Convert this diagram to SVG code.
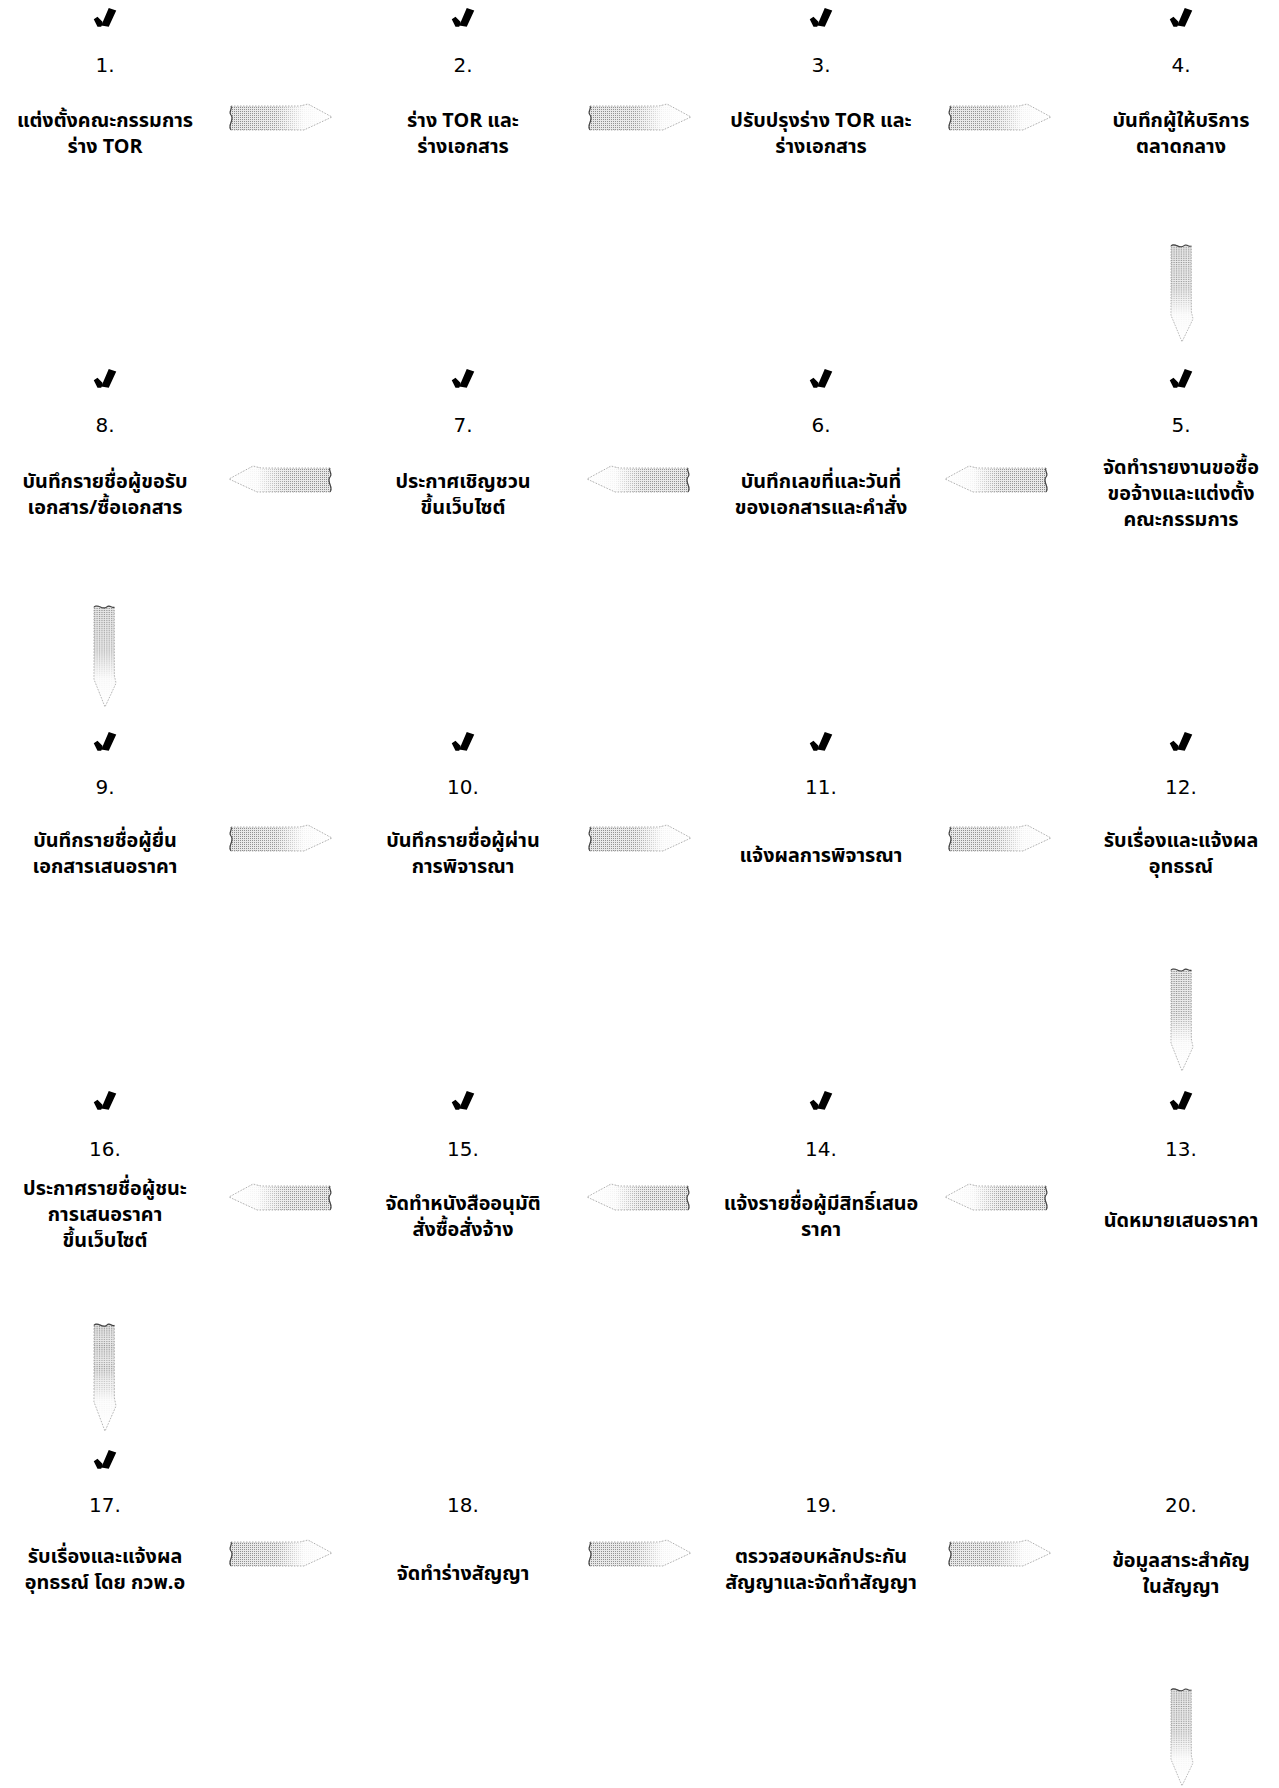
<svg xmlns="http://www.w3.org/2000/svg" xmlns:xlink="http://www.w3.org/1999/xlink" width="1279" height="1788" viewBox="0 0 1279 1788">
<style>
.num{font-family:"DejaVu Sans","Noto Sans",sans-serif;font-size:20px;fill:#000;text-anchor:middle}
.lbl{font-family:"Noto Sans Thai","DejaVu Sans","Noto Sans",sans-serif;font-size:19.8px;font-weight:bold;fill:#000;text-anchor:middle}
.chk{fill:#000}
</style>
<defs>
<pattern id="dots" width="2" height="2" patternUnits="userSpaceOnUse"><rect width="2" height="2" fill="#e8e8e8"/><rect width="1" height="1" fill="#8a8a8a"/></pattern>
<linearGradient id="fade" x1="0" y1="0" x2="1" y2="0"><stop offset="0" stop-color="#fff" stop-opacity="0"/><stop offset="0.45" stop-color="#fff" stop-opacity="0.15"/><stop offset="0.72" stop-color="#fff" stop-opacity="0.9"/><stop offset="1" stop-color="#fff" stop-opacity="1"/></linearGradient>
<g id="arr">
<path d="M3,-11 L72,-11 L80,-13 L104,0 L76,13 L3,13 C-1,8 7,3 3,-2 C0,-6 5,-8 3,-11 Z" fill="url(#dots)"/>
<path d="M3,-11 L72,-11 L80,-13 L104,0 L76,13 L3,13 C-1,8 7,3 3,-2 C0,-6 5,-8 3,-11 Z" fill="url(#fade)" stroke="#a0a0a0" stroke-width="0.8" stroke-dasharray="1.5 1.5"/>
<path d="M3,13 C-1,8 7,3 3,-2 C0,-6 5,-8 3,-11" fill="none" stroke="#444" stroke-width="1.2"/>
</g>
<path id="chk" d="M-3,6 L3,-8 L9,-6 L3,7 Z M-9,1 L-6,-1 L-2,3 L-3,7 L-6,7 Z"/>
</defs>

<g id="connectors">
<use xlink:href="#arr" transform="translate(228,117)"/>
<use xlink:href="#arr" transform="translate(587,117)"/>
<use xlink:href="#arr" transform="translate(947,117)"/>
<use xlink:href="#arr" transform="translate(1182,243) rotate(90) scale(0.95,0.85)"/>
<use xlink:href="#arr" transform="translate(1049,479) scale(-1,1)"/>
<use xlink:href="#arr" transform="translate(691,479) scale(-1,1)"/>
<use xlink:href="#arr" transform="translate(333,479) scale(-1,1)"/>
<use xlink:href="#arr" transform="translate(105,604) rotate(90) scale(0.99,0.85)"/>
<use xlink:href="#arr" transform="translate(228,838)"/>
<use xlink:href="#arr" transform="translate(587,838)"/>
<use xlink:href="#arr" transform="translate(947,838)"/>
<use xlink:href="#arr" transform="translate(1182,967) rotate(90) scale(1.0,0.85)"/>
<use xlink:href="#arr" transform="translate(1049,1197) scale(-1,1)"/>
<use xlink:href="#arr" transform="translate(691,1197) scale(-1,1)"/>
<use xlink:href="#arr" transform="translate(333,1197) scale(-1,1)"/>
<use xlink:href="#arr" transform="translate(105,1322) rotate(90) scale(1.05,0.85)"/>
<use xlink:href="#arr" transform="translate(228,1553)"/>
<use xlink:href="#arr" transform="translate(587,1553)"/>
<use xlink:href="#arr" transform="translate(947,1553)"/>
<use xlink:href="#arr" transform="translate(1182,1687) rotate(90) scale(0.95,0.85)"/>
</g>

<g id="n1"><use xlink:href="#chk" class="chk" transform="translate(105,18) scale(1.25)"/><text class="num" x="105" y="72">1.</text><text class="lbl" x="105" y="127">แต่งตั้งคณะกรรมการ</text><text class="lbl" x="105" y="153">ร่าง TOR</text></g>
<g id="n2"><use xlink:href="#chk" class="chk" transform="translate(463,18) scale(1.25)"/><text class="num" x="463" y="72">2.</text><text class="lbl" x="463" y="127">ร่าง TOR และ</text><text class="lbl" x="463" y="153">ร่างเอกสาร</text></g>
<g id="n3"><use xlink:href="#chk" class="chk" transform="translate(821,18) scale(1.25)"/><text class="num" x="821" y="72">3.</text><text class="lbl" x="821" y="127">ปรับปรุงร่าง TOR และ</text><text class="lbl" x="821" y="153">ร่างเอกสาร</text></g>
<g id="n4"><use xlink:href="#chk" class="chk" transform="translate(1181,18) scale(1.25)"/><text class="num" x="1181" y="72">4.</text><text class="lbl" x="1181" y="127">บันทึกผู้ให้บริการ</text><text class="lbl" x="1181" y="153">ตลาดกลาง</text></g>

<g id="n5"><use xlink:href="#chk" class="chk" transform="translate(1181,379) scale(1.25)"/><text class="num" x="1181" y="432">5.</text><text class="lbl" x="1181" y="474">จัดทำรายงานขอซื้อ</text><text class="lbl" x="1181" y="500">ขอจ้างและแต่งตั้ง</text><text class="lbl" x="1181" y="526">คณะกรรมการ</text></g>
<g id="n6"><use xlink:href="#chk" class="chk" transform="translate(821,379) scale(1.25)"/><text class="num" x="821" y="432">6.</text><text class="lbl" x="821" y="488">บันทึกเลขที่และวันที่</text><text class="lbl" x="821" y="514">ของเอกสารและคำสั่ง</text></g>
<g id="n7"><use xlink:href="#chk" class="chk" transform="translate(463,379) scale(1.25)"/><text class="num" x="463" y="432">7.</text><text class="lbl" x="463" y="488">ประกาศเชิญชวน</text><text class="lbl" x="463" y="514">ขึ้นเว็บไซต์</text></g>
<g id="n8"><use xlink:href="#chk" class="chk" transform="translate(105,379) scale(1.25)"/><text class="num" x="105" y="432">8.</text><text class="lbl" x="105" y="488">บันทึกรายชื่อผู้ขอรับ</text><text class="lbl" x="105" y="514">เอกสาร/ซื้อเอกสาร</text></g>

<g id="n9"><use xlink:href="#chk" class="chk" transform="translate(105,742) scale(1.25)"/><text class="num" x="105" y="794">9.</text><text class="lbl" x="105" y="847">บันทึกรายชื่อผู้ยื่น</text><text class="lbl" x="105" y="873">เอกสารเสนอราคา</text></g>
<g id="n10"><use xlink:href="#chk" class="chk" transform="translate(463,742) scale(1.25)"/><text class="num" x="463" y="794">10.</text><text class="lbl" x="463" y="847">บันทึกรายชื่อผู้ผ่าน</text><text class="lbl" x="463" y="873">การพิจารณา</text></g>
<g id="n11"><use xlink:href="#chk" class="chk" transform="translate(821,742) scale(1.25)"/><text class="num" x="821" y="794">11.</text><text class="lbl" x="821" y="862">แจ้งผลการพิจารณา</text></g>
<g id="n12"><use xlink:href="#chk" class="chk" transform="translate(1181,742) scale(1.25)"/><text class="num" x="1181" y="794">12.</text><text class="lbl" x="1181" y="847">รับเรื่องและแจ้งผล</text><text class="lbl" x="1181" y="873">อุทธรณ์</text></g>

<g id="n13"><use xlink:href="#chk" class="chk" transform="translate(1181,1101) scale(1.25)"/><text class="num" x="1181" y="1156">13.</text><text class="lbl" x="1181" y="1227">นัดหมายเสนอราคา</text></g>
<g id="n14"><use xlink:href="#chk" class="chk" transform="translate(821,1101) scale(1.25)"/><text class="num" x="821" y="1156">14.</text><text class="lbl" x="821" y="1210">แจ้งรายชื่อผู้มีสิทธิ์เสนอ</text><text class="lbl" x="821" y="1236">ราคา</text></g>
<g id="n15"><use xlink:href="#chk" class="chk" transform="translate(463,1101) scale(1.25)"/><text class="num" x="463" y="1156">15.</text><text class="lbl" x="463" y="1210">จัดทำหนังสืออนุมัติ</text><text class="lbl" x="463" y="1236">สั่งซื้อสั่งจ้าง</text></g>
<g id="n16"><use xlink:href="#chk" class="chk" transform="translate(105,1101) scale(1.25)"/><text class="num" x="105" y="1156">16.</text><text class="lbl" x="105" y="1195">ประกาศรายชื่อผู้ชนะ</text><text class="lbl" x="105" y="1221">การเสนอราคา</text><text class="lbl" x="105" y="1247">ขึ้นเว็บไซต์</text></g>

<g id="n17"><use xlink:href="#chk" class="chk" transform="translate(105,1460) scale(1.25)"/><text class="num" x="105" y="1512">17.</text><text class="lbl" x="105" y="1563">รับเรื่องและแจ้งผล</text><text class="lbl" x="105" y="1589">อุทธรณ์ โดย กวพ.อ</text></g>
<g id="n18"><text class="num" x="463" y="1512">18.</text><text class="lbl" x="463" y="1580">จัดทำร่างสัญญา</text></g>
<g id="n19"><text class="num" x="821" y="1512">19.</text><text class="lbl" x="821" y="1563">ตรวจสอบหลักประกัน</text><text class="lbl" x="821" y="1589">สัญญาและจัดทำสัญญา</text></g>
<g id="n20"><text class="num" x="1181" y="1512">20.</text><text class="lbl" x="1181" y="1567">ข้อมูลสาระสำคัญ</text><text class="lbl" x="1181" y="1593">ในสัญญา</text></g>
</svg>
